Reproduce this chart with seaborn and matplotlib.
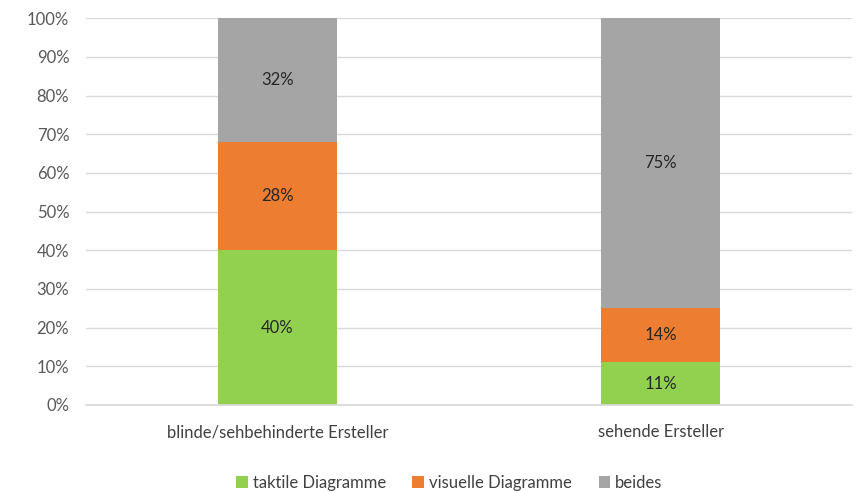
import matplotlib
matplotlib.use('Agg')
import matplotlib.pyplot as plt
import numpy as np
import pandas as pd
import seaborn as sns
from matplotlib.patches import Patch
from matplotlib.ticker import PercentFormatter

categories = ['blinde/sehbehinderte Ersteller', 'sehende Ersteller']
series = ['taktile Diagramme', 'visuelle Diagramme', 'beides']
taktil = [40, 11]
visuell = [28, 14]
beides = [32, 75]
colors = ['#92D050', '#ED7D31', '#A5A5A5']

sns.set_theme(style='white')
plt.rcParams['font.family'] = ['Lato', 'DejaVu Sans']

vals = np.array([taktil, visuell, beides], dtype=float)
cum = np.cumsum(vals, axis=0)

fig = plt.figure(figsize=(8.64, 4.92), dpi=100)
ax = fig.add_axes([0.0995, 0.177, 0.887, 0.786])

# stack by drawing cumulative totals from top to bottom
for i in reversed(range(len(series))):
    df = pd.DataFrame({'cat': categories, 'val': cum[i]})
    sns.barplot(data=df, x='cat', y='val', color=colors[i], width=0.31,
                saturation=1, ax=ax, zorder=2, linewidth=0)

for j in range(len(categories)):
    for i in range(len(series)):
        mid = cum[i, j] - vals[i, j] / 2
        ax.text(j, mid, '{:.0f}%'.format(vals[i, j]), ha='center', va='center',
                fontsize=12, color='#262626', zorder=3)

ax.set_xlim(-0.5, 1.5)
ax.set_ylim(0, 100)
ax.set_yticks(np.arange(0, 101, 10))
ax.yaxis.set_major_formatter(PercentFormatter(decimals=0))
ax.set_xlabel('')
ax.set_ylabel('')
ax.grid(axis='y', color='#D9D9D9', linewidth=1, zorder=0)
ax.set_axisbelow(True)
for s in ['top', 'right', 'left']:
    ax.spines[s].set_visible(False)
ax.spines['bottom'].set_color('#D9D9D9')
ax.tick_params(axis='y', length=0, labelsize=12, labelcolor='#595959', pad=12)
ax.tick_params(axis='x', length=0, labelsize=12, labelcolor='#404040', pad=14)

handles = [Patch(facecolor=c, edgecolor='none') for c in colors]
fig.legend(handles, series, loc='lower center', bbox_to_anchor=(0.52, -0.028),
           ncol=3, frameon=False, fontsize=12, handlelength=0.7, handleheight=0.7,
           handletextpad=0.3, columnspacing=1.6, labelcolor='#404040')

fig.savefig('out.png', dpi=100)
